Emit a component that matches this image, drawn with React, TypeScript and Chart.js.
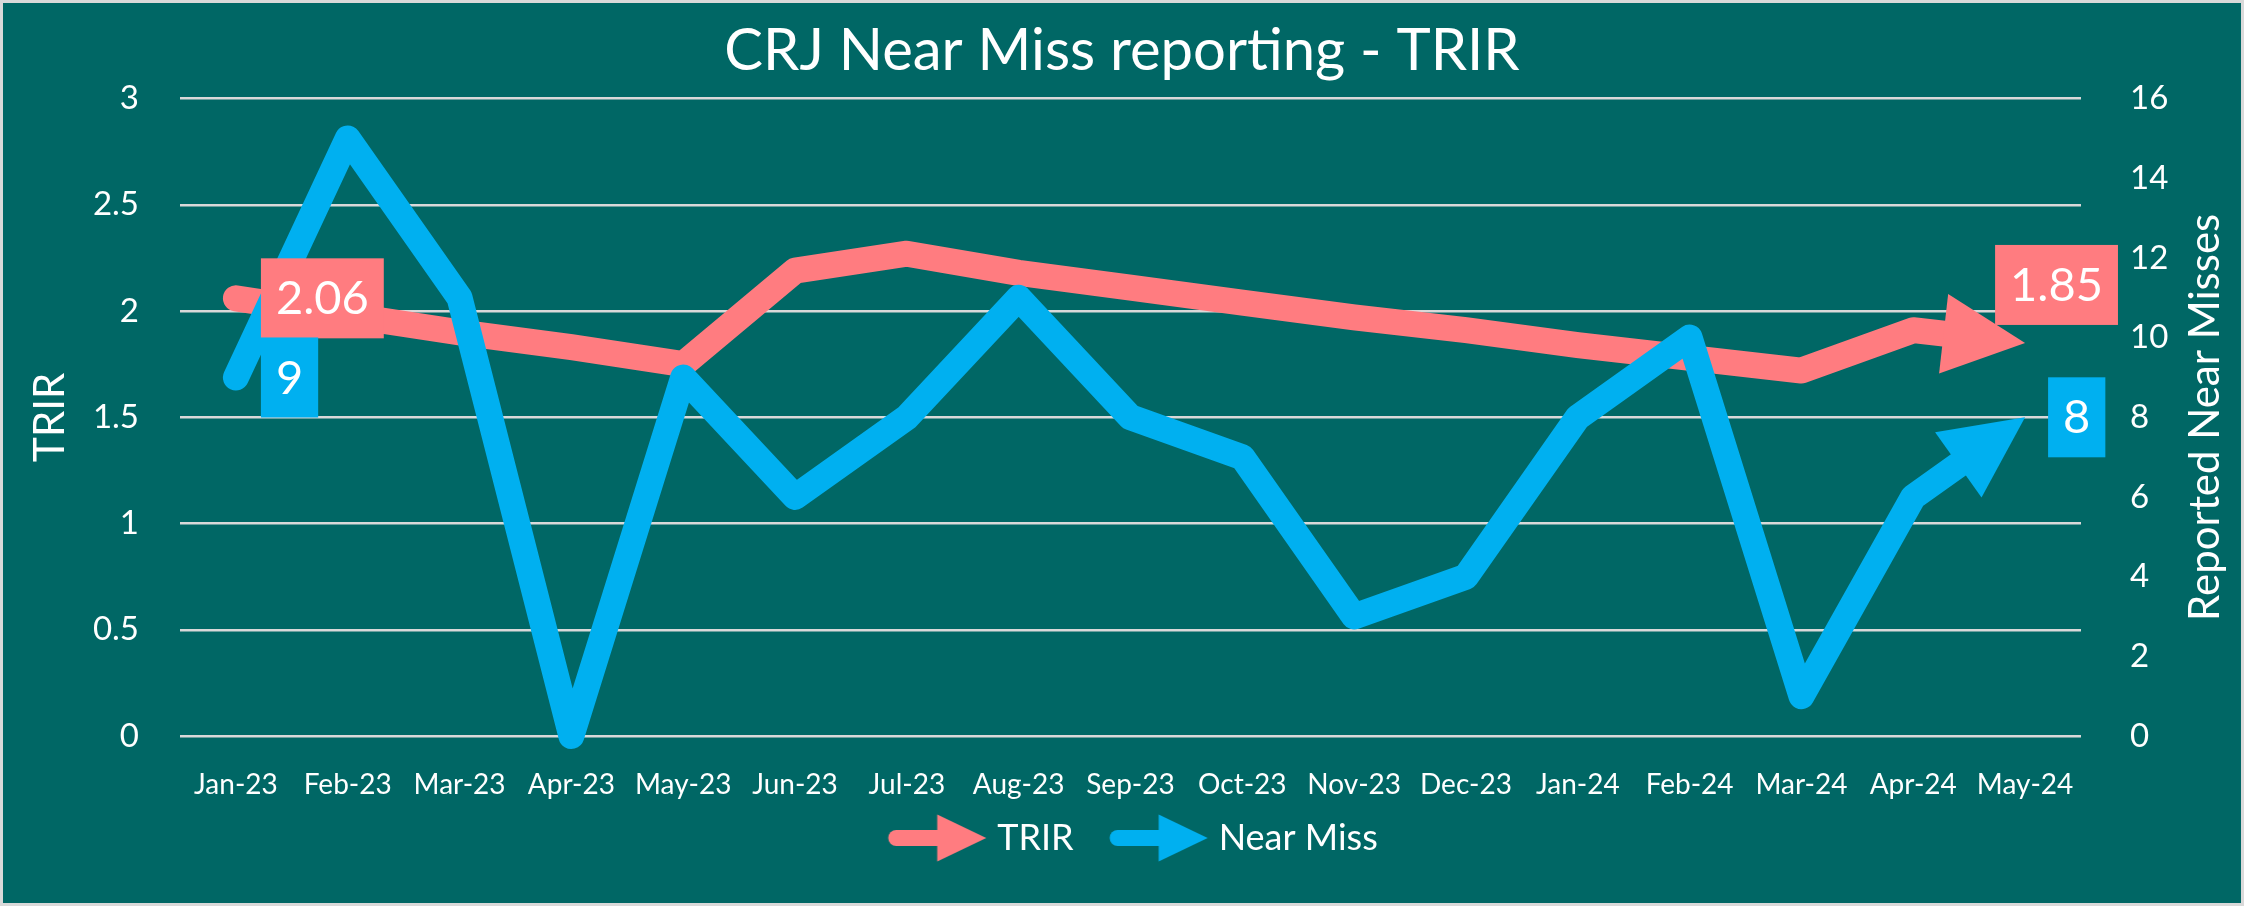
import React, { useEffect, useRef } from 'react';
import { Chart, registerables } from 'chart.js';

Chart.register(...registerables);

const MONTHS = ['Jan-23', 'Feb-23', 'Mar-23', 'Apr-23', 'May-23', 'Jun-23', 'Jul-23', 'Aug-23', 'Sep-23', 'Oct-23', 'Nov-23', 'Dec-23', 'Jan-24', 'Feb-24', 'Mar-24', 'Apr-24', 'May-24'];
const TRIR = [2.06, 1.98, 1.9, 1.83, 1.75, 2.19, 2.27, 2.18, 2.11, 2.04, 1.97, 1.91, 1.84, 1.78, 1.72, 1.91, 1.85];
const NEAR_MISS = [9, 15, 11, 0, 9, 6, 8, 11, 8, 7, 3, 4, 8, 10, 1, 6, 8];
const TRIR_RANGE = [0, 3, 0.5];
const NEAR_MISS_RANGE = [0, 16, 2];

const FONT = "Lato, 'Open Sans', sans-serif";
const TEAL = '#006765';
const PINK = '#FF7C80';
const BLUE = '#00B0F0';
const GRID = '#D9D9D9';
const WHITE = '#FFFFFF';

// label placement style: [dx from point to box left, dy from point to box center]
const LABEL_STYLE: Record<string, [number, number]> = {
  '0-first': [25, 0],
  '0-last': [-30, -58],
  '1-first': [25, 0],
  '1-last': [23, 0],
};

function makeLegendArrow(color: string, bw: number, shift: number): HTMLCanvasElement {
  const W = 300, H = 52;
  const c = document.createElement('canvas');
  c.width = W; c.height = H;
  const g = c.getContext('2d')!;
  const off = W / 2 - bw / 2 + shift;
  const cy = H / 2;
  g.strokeStyle = color;
  g.fillStyle = color;
  g.lineWidth = 16;
  g.lineCap = 'round';
  g.beginPath();
  g.moveTo(off + 8, cy);
  g.lineTo(off + 50, cy);
  g.stroke();
  g.beginPath();
  g.moveTo(off + 49, cy - 23.5);
  g.lineTo(off + 98, cy);
  g.lineTo(off + 49, cy + 23.5);
  g.closePath();
  g.fill();
  return c;
}

const HEAD_LEN = 82;
const HEAD_W = 80;

function tipGeom(chart: any, idx: number) {
  const pts = chart.getDatasetMeta(idx).data;
  const a = pts[pts.length - 2];
  const b = pts[pts.length - 1];
  const dx = b.x - a.x, dy = b.y - a.y;
  const l = Math.hypot(dx, dy) || 1;
  return { tx: b.x, ty: b.y, ux: dx / l, uy: dy / l };
}

const bgPlugin = {
  id: 'bgFrame',
  beforeDraw(chart: any) {
    const { ctx, width, height } = chart;
    ctx.save();
    ctx.fillStyle = GRID;
    ctx.fillRect(0, 0, width, height);
    ctx.fillStyle = TEAL;
    ctx.fillRect(3, 3, width - 6, height - 6);
    ctx.restore();
  },
};

const arrowPlugin = {
  id: 'arrowEnds',
  beforeDatasetDraw(chart: any, args: any) {
    const { ctx } = chart;
    const g = tipGeom(chart, args.index);
    const bx = g.tx - g.ux * (HEAD_LEN - 2);
    const by = g.ty - g.uy * (HEAD_LEN - 2);
    const nx = -g.uy, ny = g.ux;
    const h = 40;
    const ext = HEAD_LEN + 40;
    ctx.save();
    ctx.beginPath();
    ctx.rect(0, 0, chart.width, chart.height);
    ctx.moveTo(bx + nx * h, by + ny * h);
    ctx.lineTo(bx + nx * h + g.ux * ext, by + ny * h + g.uy * ext);
    ctx.lineTo(bx - nx * h + g.ux * ext, by - ny * h + g.uy * ext);
    ctx.lineTo(bx - nx * h, by - ny * h);
    ctx.closePath();
    ctx.clip('evenodd');
  },
  afterDatasetDraw(chart: any, args: any) {
    const { ctx } = chart;
    ctx.restore();
    const g = tipGeom(chart, args.index);
    const bx = g.tx - g.ux * HEAD_LEN;
    const by = g.ty - g.uy * HEAD_LEN;
    const nx = -g.uy, ny = g.ux;
    ctx.save();
    ctx.fillStyle = chart.data.datasets[args.index].borderColor;
    ctx.beginPath();
    ctx.moveTo(g.tx, g.ty);
    ctx.lineTo(bx + nx * HEAD_W / 2, by + ny * HEAD_W / 2);
    ctx.lineTo(bx - nx * HEAD_W / 2, by - ny * HEAD_W / 2);
    ctx.closePath();
    ctx.fill();
    ctx.restore();
  },
};

const labelPlugin = {
  id: 'endLabels',
  afterDatasetsDraw(chart: any) {
    const { ctx } = chart;
    ctx.save();
    ctx.font = `47px ${FONT}`;
    ctx.textBaseline = 'middle';
    ctx.textAlign = 'center';
    chart.data.datasets.forEach((ds: any, i: number) => {
      const pts = chart.getDatasetMeta(i).data;
      const ends: [string, number][] = [['first', 0], ['last', pts.length - 1]];
      ends.forEach(([k, j]) => {
        const v = ds.data[j];
        const txt = i === 0 ? v.toFixed(2) : String(v);
        const [dx, dy] = LABEL_STYLE[`${i}-${k}`];
        const w = ctx.measureText(txt).width + 30;
        const hgt = 80;
        const left = pts[j].x + dx;
        const cy = pts[j].y + dy;
        ctx.fillStyle = ds.borderColor;
        ctx.fillRect(left, cy - hgt / 2, w, hgt);
        ctx.fillStyle = WHITE;
        ctx.fillText(txt, left + w / 2, cy + 1);
      });
    });
    ctx.restore();
  },
};

const rightTitlePlugin = {
  id: 'rightTitle',
  afterDraw(chart: any) {
    const { ctx, chartArea } = chart;
    ctx.save();
    ctx.translate(2205, (chartArea.top + chartArea.bottom) / 2);
    ctx.rotate(-Math.PI / 2);
    ctx.font = `42px ${FONT}`;
    ctx.fillStyle = WHITE;
    ctx.textAlign = 'center';
    ctx.textBaseline = 'middle';
    ctx.fillText('Reported Near Misses', 0, 0);
    ctx.restore();
  },
};

export default function App() {
  const ref = useRef<HTMLCanvasElement | null>(null);
  useEffect(() => {
    document.body.style.margin = '0';
    const canvas = ref.current!;
    const BW = 113;
    const SHIFT = 22;
    const arrows = [makeLegendArrow(PINK, BW, SHIFT), makeLegendArrow(BLUE, BW, SHIFT)];
    const chart = new Chart(canvas, {
      type: 'line',
      data: {
        labels: MONTHS,
        datasets: [
          {
            label: 'TRIR', data: TRIR, yAxisID: 'y', borderColor: PINK, backgroundColor: PINK,
            borderWidth: 26, pointRadius: 0, pointHoverRadius: 0, tension: 0,
            borderCapStyle: 'round', borderJoinStyle: 'round', clip: false, order: 1,
          },
          {
            label: 'Near Miss', data: NEAR_MISS, yAxisID: 'y1', borderColor: BLUE, backgroundColor: BLUE,
            borderWidth: 26, pointRadius: 0, pointHoverRadius: 0, tension: 0,
            borderCapStyle: 'round', borderJoinStyle: 'round', clip: false, order: 0,
          },
        ],
      } as any,
      options: {
        responsive: false,
        animation: false,
        events: [],
        layout: { padding: { left: 3, right: 3, top: 3, bottom: 40 } },
        plugins: {
          title: {
            display: true, text: 'CRJ Near Miss reporting - TRIR', color: WHITE,
            font: { family: FONT, size: 58, weight: 'normal', lineHeight: 1.2 },
            padding: { top: 13, bottom: 13 },
          },
          legend: {
            position: 'bottom',
            labels: {
              usePointStyle: true, pointStyleWidth: BW, padding: 14, color: WHITE,
              font: { family: FONT, size: 36 },
              generateLabels: (ch: any) => ch.data.datasets.map((ds: any, i: number) => ({
                text: ds.label, fillStyle: ds.borderColor, strokeStyle: ds.borderColor,
                lineWidth: 0, pointStyle: arrows[i], hidden: false, datasetIndex: i, fontColor: WHITE,
              })),
            },
          },
          tooltip: { enabled: false },
        },
        scales: {
          x: {
            offset: true,
            grid: { display: false, offset: true }, border: { display: false },
            ticks: { color: WHITE, font: { family: FONT, size: 28, lineHeight: 1 }, padding: 27, maxRotation: 0, autoSkip: false },
            afterFit: (s: any) => { s.height = 70; },
          },
          y: {
            position: 'left', min: TRIR_RANGE[0], max: TRIR_RANGE[1],
            ticks: { stepSize: TRIR_RANGE[2], color: WHITE, font: { family: FONT, size: 33 }, padding: 41, callback: (v: any) => String(v) },
            grid: { color: GRID, lineWidth: 2.5, drawTicks: false }, border: { display: false },
            title: { display: true, text: 'TRIR', color: WHITE, font: { family: FONT, size: 42 }, padding: { top: 22, bottom: 0 } },
            afterFit: (s: any) => { s.width = 177; },
          },
          y1: {
            position: 'right', min: NEAR_MISS_RANGE[0], max: NEAR_MISS_RANGE[1],
            ticks: { stepSize: NEAR_MISS_RANGE[2], color: WHITE, font: { family: FONT, size: 33 }, padding: 41, callback: (v: any) => String(v) },
            grid: { display: false }, border: { display: false },
            afterFit: (s: any) => { s.width = 160; },
          },
        },
      } as any,
      plugins: [bgPlugin, arrowPlugin, labelPlugin, rightTitlePlugin],
    });
    return () => chart.destroy();
  }, []);
  return <canvas ref={ref} width={2244} height={906} style={{ display: 'block', width: 2244, height: 906 }} />;
}
